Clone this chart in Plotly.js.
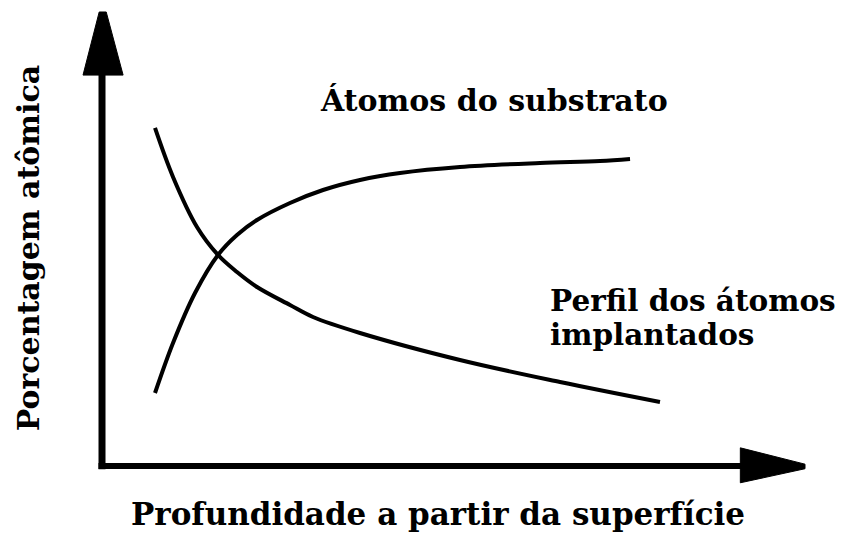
<!DOCTYPE html>
<html>
<head>
<meta charset="utf-8">
<script src="https://cdn.plot.ly/plotly-3.0.1.min.js"></script>
<style>
  html, body { margin: 0; padding: 0; background: #fff; }
  #chart { width: 850px; height: 536px; }
</style>
</head>
<body>
<div id="chart"></div>
<script>
// Depth (arbitrary units, 0 = surface) and atomic percentage for each profile
const substrateDepth = [7.54, 10.10, 13.23, 16.50, 19.20, 22.05, 26.74, 31.44, 36.70, 42.39, 50.92, 62.30, 70.84, 75.11];
const substratePct   = [16.08, 27.09, 38.11, 46.48, 50.88, 54.19, 57.93, 60.79, 63.00, 64.54, 65.86, 66.74, 67.18, 67.62];

const implantDepth = [7.54, 10.10, 13.51, 16.50, 19.20, 22.05, 26.74, 30.01, 36.70, 50.92, 65.15, 79.37];
const implantPct   = [74.45, 63.66, 52.64, 46.48, 42.73, 39.43, 35.46, 32.82, 29.30, 23.35, 18.50, 14.10];

const labelSubstrate = 'Átomos do substrato';
const labelImplant   = ['Perfil dos átomos', 'implantados'];
const xTitle = 'Profundidade a partir da superfície';
const yTitle = 'Porcentagem atômica';

const FONT = 'DejaVu Serif, serif';
const INK = '#000';

const curve = (x, y) => ({
  x: x, y: y, type: 'scatter', mode: 'lines',
  line: { color: INK, width: 4, shape: 'spline', smoothing: 1 },
  hoverinfo: 'skip', showlegend: false
});

const traces = [curve(substrateDepth, substratePct), curve(implantDepth, implantPct)];

// Axis arrows drawn as shapes in data units
const shapes = [
  { type: 'line', xref: 'x', yref: 'y', x0: 0, y0: -0.7, x1: 0, y1: 87, line: { color: INK, width: 7 } },
  { type: 'line', xref: 'x', yref: 'y', x0: -0.5, y0: 0, x1: 92, y1: 0, line: { color: INK, width: 6 } },
  { type: 'path', xref: 'x', yref: 'y', path: 'M -2.7,86.1 L 3.0,86.1 L 0.6,100 L -0.4,100 Z', fillcolor: INK, line: { color: INK, width: 1 } },
  { type: 'path', xref: 'x', yref: 'y', path: 'M 90.8,4.0 L 100,0.4 L 100,-0.6 L 90.8,-3.7 Z', fillcolor: INK, line: { color: INK, width: 1 } }
];

const txt = (text, x, y, size, extra) => Object.assign({
  text: '<b>' + text + '</b>', x: x, y: y, xref: 'x', yref: 'y', showarrow: false,
  font: { family: FONT, size: size, color: INK }
}, extra || {});

const annotations = [
  txt(labelSubstrate, 30.7, 80.6, 30, { xanchor: 'left', yanchor: 'middle' }),
  txt(labelImplant[0], 63.4, 36.56, 29.5, { xanchor: 'left', yanchor: 'middle' }),
  txt(labelImplant[1], 63.4, 29.07, 29.5, { xanchor: 'left', yanchor: 'middle' }),
  txt(xTitle, 47.8, -10.6, 31, { xanchor: 'center', yanchor: 'middle' }),
  txt(yTitle, -10.5, 48.0, 30, { xanchor: 'center', yanchor: 'middle', textangle: -90 })
];

const layout = {
  width: 850, height: 536,
  margin: { l: 0, r: 0, t: 0, b: 0 },
  paper_bgcolor: '#fff', plot_bgcolor: '#fff',
  xaxis: { range: [-14.51, 106.40], visible: false, fixedrange: true },
  yaxis: { range: [-15.42, 102.64], visible: false, fixedrange: true },
  shapes: shapes,
  annotations: annotations,
  showlegend: false
};

Plotly.newPlot('chart', traces, layout, { displayModeBar: false, staticPlot: true });
</script>
</body>
</html>
